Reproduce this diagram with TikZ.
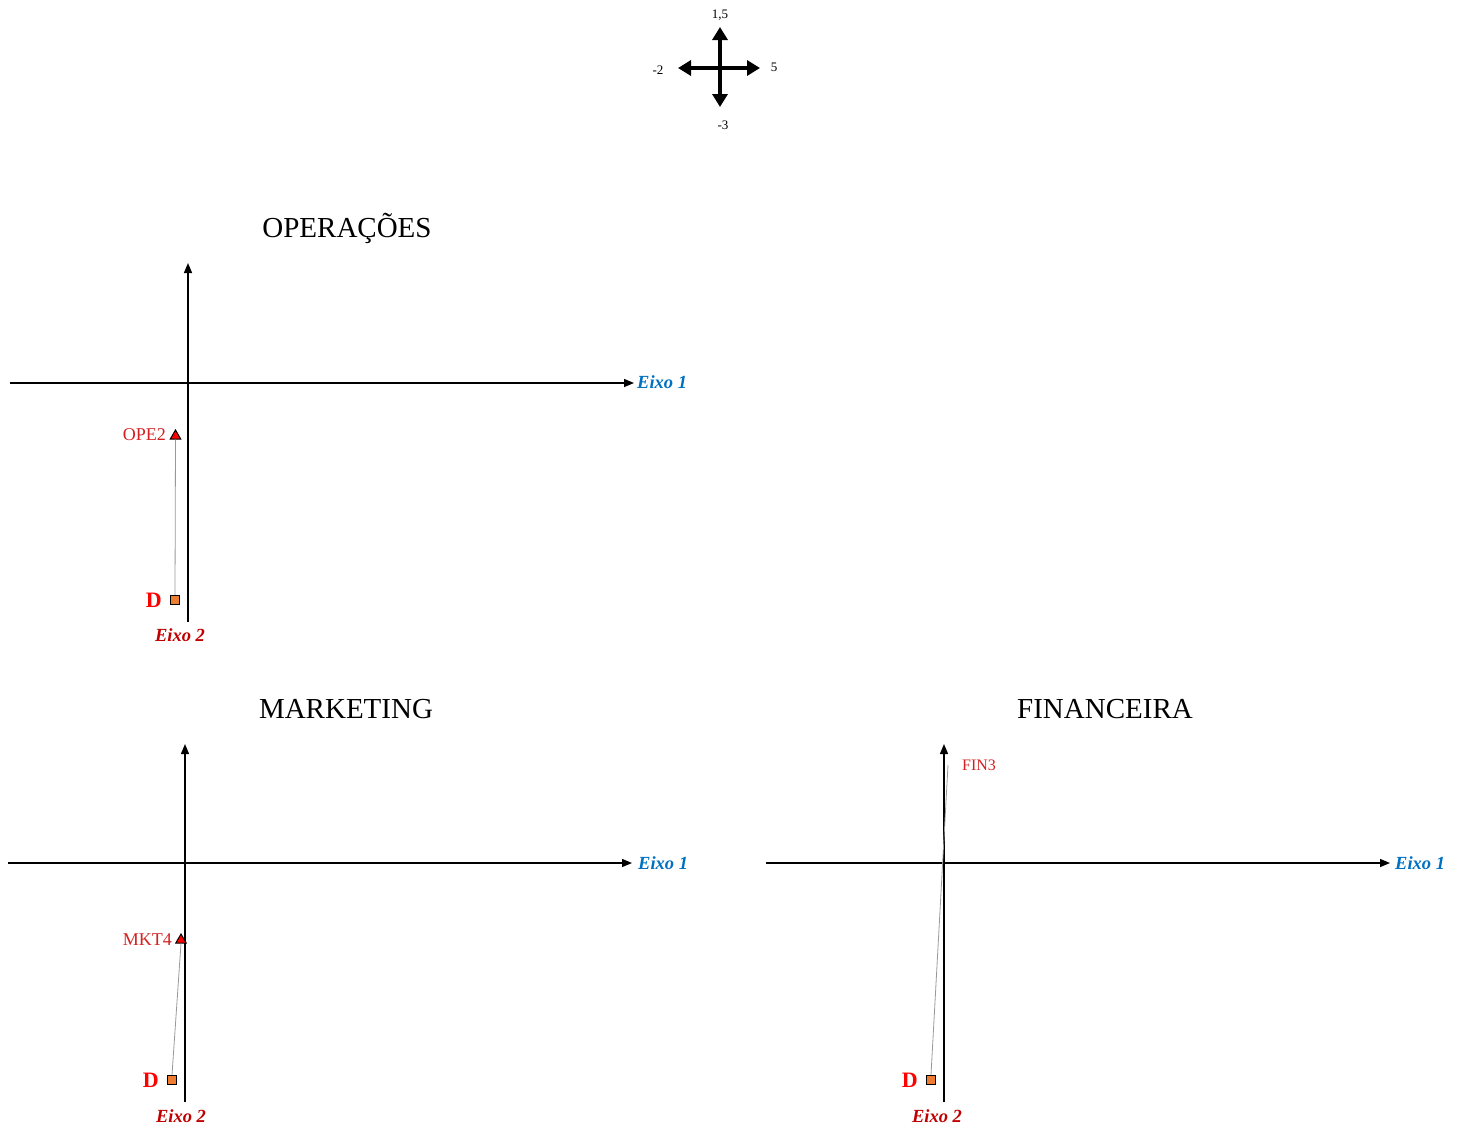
\documentclass[tikz,border=0pt]{standalone}
\usepackage{fontspec}
\setmainfont{Liberation Serif}
\usetikzlibrary{arrows.meta,shapes.geometric}
\definecolor{axblue}{HTML}{0070C0}
\definecolor{axred}{HTML}{C00000}
\definecolor{lblred}{HTML}{D42020}
\definecolor{dorange}{HTML}{ED7D31}
\tikzset{
  axis/.style={line width=1.4pt,-{Triangle[length=10pt,width=8pt]}},
  eixoa/.style={font=\fontsize{18.5}{18.5}\selectfont\bfseries\itshape,text=axblue,anchor=west,inner sep=1pt},
  eixob/.style={font=\fontsize{18.5}{18.5}\selectfont\bfseries\itshape,text=axred,inner sep=1pt},
  ttl/.style={font=\fontsize{29}{29}\selectfont},
  ptlbl/.style={font=\fontsize{18}{18}\selectfont,text=lblred,anchor=east,inner sep=1pt},
  dlbl/.style={font=\fontsize{22}{22}\selectfont\bfseries,text=red,anchor=east,inner sep=1pt},
  dsq/.style={draw=black,line width=1.3pt,fill=dorange,minimum size=9pt,inner sep=0pt},
  tri/.style={draw=black,line width=1pt,fill=red,regular polygon,regular polygon sides=3,minimum size=12pt,inner sep=0pt},
  link/.style={draw=gray!80,line width=0.8pt},
  cmp/.style={line width=4pt,{Triangle[length=13pt,width=15pt]}-{Triangle[length=13pt,width=15pt]}},
  cmplbl/.style={font=\fontsize{13}{13}\selectfont,inner sep=1pt},
}
\begin{document}
\begin{tikzpicture}[x=1pt,y=-1pt]
\useasboundingbox (0,0) rectangle (1462,1128);
% compass
\coordinate (cu) at (720,27);
\coordinate (cd) at (720,107);
\coordinate (cl) at (678,68);
\coordinate (cr) at (760,68);
\draw[cmp] (cd) -- (cu);
\draw[cmp] (cl) -- (cr);
\node[cmplbl] (c15) at (720,15) {1,5};
\node[cmplbl] (cm2) at (658,70) {-2};
\node[cmplbl] (c5) at (774,67) {5};
\node[cmplbl] (cm3) at (723,125) {-3};

% OPERACOES
\node[ttl] (t1) at (347,228) {OPERAÇÕES};
\coordinate (h1s) at (10,383);
\coordinate (h1e) at (634,383);
\coordinate (v1s) at (188,622);
\coordinate (v1e) at (188,263);
\draw[axis] (h1s) -- (h1e);
\draw[axis] (v1s) -- (v1e);
\node[eixoa] (e11) at (636,382) {Eixo 1};
\node[eixob] (e12) at (180,635) {Eixo 2};
\node[dsq] (d1) at (175,600) {};
\node[tri] (p1) at (175.5,436) {};
\draw[link] (d1.north) -- (p1.south);
\node[ptlbl] (l1) at (167,435) {OPE2};
\node[dlbl] (dl1) at (163,600) {D};

% MARKETING
\node[ttl] (t2) at (346,709) {MARKETING};
\coordinate (h2s) at (8,863);
\coordinate (h2e) at (632,863);
\coordinate (v2s) at (185,1102);
\coordinate (v2e) at (185,744);
\draw[axis] (h2s) -- (h2e);
\draw[axis] (v2s) -- (v2e);
\node[eixoa] (e21) at (637,863) {Eixo 1};
\node[eixob] (e22) at (181,1116) {Eixo 2};
\node[dsq] (d2) at (172,1080) {};
\node[tri] (p2) at (181,940) {};
\draw[link] (d2.north) -- (p2.south);
\node[ptlbl] (l2) at (173,940) {MKT4};
\node[dlbl] (dl2) at (160,1080) {D};

% FINANCEIRA
\node[ttl] (t3) at (1105,709) {FINANCEIRA};
\coordinate (h3s) at (766,863);
\coordinate (h3e) at (1390,863);
\coordinate (v3s) at (944,1102);
\coordinate (v3e) at (944,744);
\draw[axis] (h3s) -- (h3e);
\draw[axis] (v3s) -- (v3e);
\node[eixoa] (e31) at (1394,863) {Eixo 1};
\node[eixob] (e32) at (937,1116) {Eixo 2};
\node[dsq] (d3) at (931,1080) {};
\coordinate (p3) at (948,765);
\draw[link] (d3.north) -- (p3);
\node[font=\fontsize{16}{16}\selectfont,text=lblred,anchor=west,inner sep=1pt] (l3) at (961,765) {FIN3};
\node[dlbl] (dl3) at (919,1080) {D};
\end{tikzpicture}
\end{document}
